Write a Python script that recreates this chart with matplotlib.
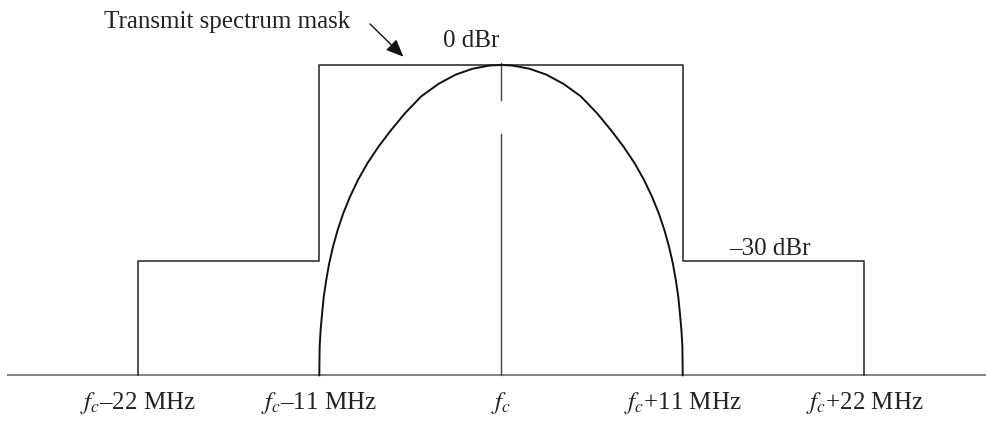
import matplotlib.pyplot as plt

plt.rcParams['font.family'] = ['Liberation Serif', 'DejaVu Serif']
plt.rcParams['mathtext.fontset'] = 'stix'

# frequency offsets from fc (MHz) and levels (dBr)
mask_f = [-22, -22, -11, -11, 11, 11, 22, 22]
mask_db = [-47.5, -30, -30, 0, 0, -30, -30, -47.5]

# left half of the signal spectrum
curve_f_left = [-11.0, -10.98, -10.92, -10.83, -10.73, -10.58, -10.40, -10.17,
                -9.89, -9.55, -9.14, -8.66, -8.09, -7.42, -6.65, -5.80,
                -4.83, -3.79, -2.75, -1.72, -0.68, 0.0]
curve_db_left = [-47.5, -43.12, -40.56, -38.01, -35.47, -32.91, -30.35, -27.81,
                 -25.26, -22.70, -20.16, -17.60, -15.05, -12.51, -9.95, -7.35,
                 -4.80, -2.90, -1.48, -0.57, -0.08, 0.0]
curve_f = curve_f_left + [-f for f in reversed(curve_f_left[:-1])]
curve_db = curve_db_left + list(reversed(curve_db_left[:-1]))

floor_db = -47.5
tick_f = [-22, -11, 0, 11, 22]
tick_labels = [r'$f_c$–22 MHz', r'$f_c$–11 MHz', r'$f_c$', r'$f_c$+11 MHz', r'$f_c$+22 MHz']

fig = plt.figure(figsize=(9.87, 4.21), dpi=100)
ax = fig.add_axes([0, 0, 1, 1])
ax.set_xlim(-30.33, 29.42)
ax.set_ylim(-54.5, 9.95)
ax.axis('off')

# baseline
ax.plot([-29.9, 29.42], [floor_db, floor_db], color='#777777', lw=1.3, solid_capstyle='butt')

# center line with a gap
ax.plot([0, 0], [0.3, -5.4], color='#444444', lw=1.0)
ax.plot([0, 0], [-10.6, floor_db], color='#444444', lw=1.0)

# mask and spectrum
ax.plot(mask_f, mask_db, color='#333333', lw=1.2)
ax.plot(curve_f, curve_db, color='#111111', lw=1.4, solid_joinstyle='round')

# text
fs = 18
ax.text(-24.03, 5.66, 'Transmit spectrum mask', fontsize=fs, va='baseline', ha='left', color='#222222')
ax.annotate('', xy=(-5.91, 1.27), xytext=(-7.93, 6.28),
            arrowprops=dict(arrowstyle='-|>,head_length=0.7,head_width=0.3',
                            color='#111111', lw=1.0, mutation_scale=15,
                            shrinkA=0, shrinkB=0))
ax.text(-3.51, 2.76, '0 dBr', fontsize=fs, va='baseline', ha='left', color='#222222')
ax.text(13.8, -29.1, '–30 dBr', fontsize=fs, va='baseline', ha='left', color='#222222')

for f, lab in zip(tick_f, tick_labels):
    ax.text(f, -52.65, lab, fontsize=fs, va='baseline', ha='center', color='#222222')

fig.savefig('out.png', dpi=100)
